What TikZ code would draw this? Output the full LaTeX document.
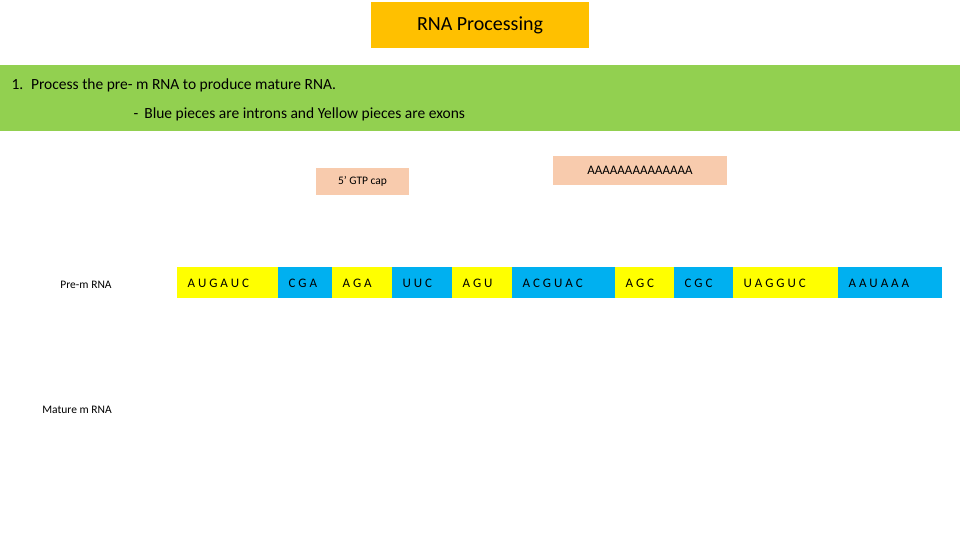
\documentclass[tikz,border=0pt]{standalone}
\usepackage{fontspec}
\setmainfont{Carlito}
\definecolor{yel}{HTML}{FFFF00}
\definecolor{blu}{HTML}{00B0F0}
\definecolor{gold}{HTML}{FFC000}
\definecolor{grn}{HTML}{92D050}
\definecolor{peach}{HTML}{F8CBAD}
\begin{document}
\begin{tikzpicture}[x=1pt,y=-1pt,
  seg/.style={anchor=north west,inner sep=0pt,font=\fontsize{12}{14}\selectfont,text height=9pt,text depth=0pt,align=center},
  lab/.style={font=\fontsize{11.5}{14}\selectfont}]
\useasboundingbox (0,0) rectangle (960,540);
\fill[white] (0,0) rectangle (960,540);
\node[fill=gold,minimum width=218,minimum height=46,inner sep=0pt,font=\fontsize{20}{24}\selectfont] (title) at (480,25) {RNA Processing};
\fill[grn] (0,65) rectangle (960,131);
\node[anchor=west,font=\fontsize{15.5}{18}\selectfont] (l1) at (8,85) {1.\enspace Process the pre- m RNA to produce mature RNA.};
\node[anchor=west,font=\fontsize{15.5}{18}\selectfont] (l2) at (130,114) {- \,Blue pieces are introns and Yellow pieces are exons};
\node[fill=peach,minimum width=93,minimum height=27,inner sep=0pt,lab] (cap) at (362.5,181.5) {5’ GTP cap};
\node[fill=peach,minimum width=174,minimum height=29,inner sep=0pt,font=\fontsize{13}{15}\selectfont] (tail) at (640,170.5) {AAAAAAAAAAAAAA};
\node[lab] (pre) at (86,285) {Pre-m RNA};
\node[lab] (mat) at (77,410) {Mature m RNA};
\foreach \a/\b/\c/\t/\n in {177/278/yel/A U G A U C/s1, 278/332/blu/C G A/s2, 332/392/yel/A G A/s3, 392/452/blu/U U C/s4, 452/512/yel/A G U/s5, 512/615/blu/A C G U A C/s6, 615/674/yel/A G C/s7, 674/733/blu/C G C/s8, 733/838/yel/U A G G U C/s9, 838/942/blu/A A U A A A/s10}{
  \fill[\c] (\a,267) rectangle (\b,298);
  \node[lab,font=\fontsize{13}{15}\selectfont,anchor=west] (\n) at (\a+7,283) {\t};
}
\end{tikzpicture}
\end{document}
